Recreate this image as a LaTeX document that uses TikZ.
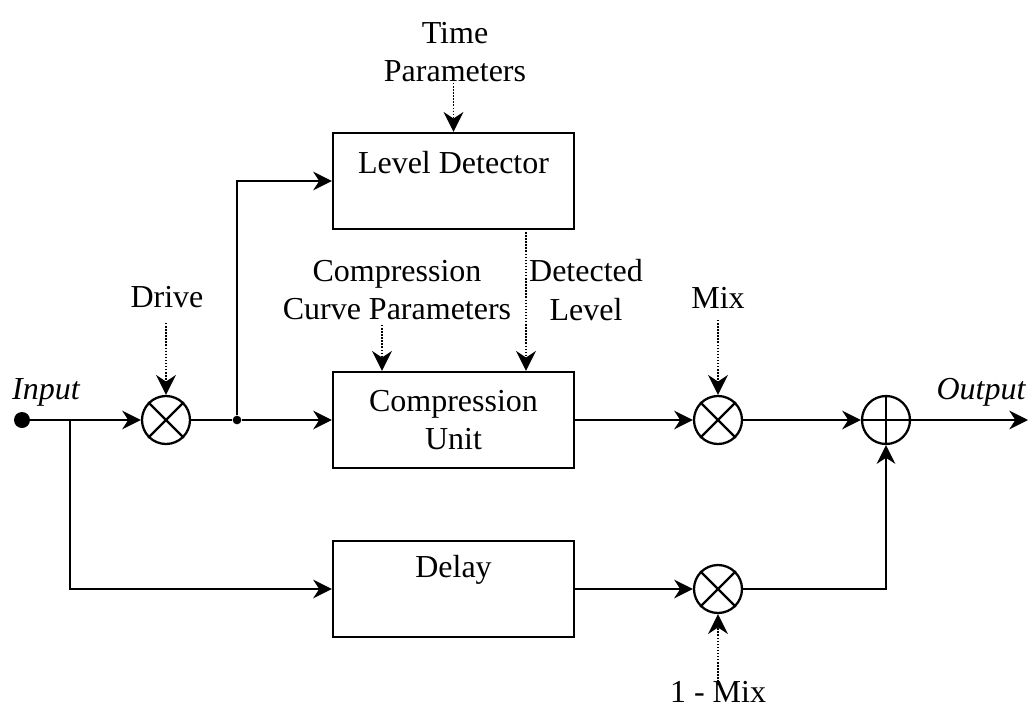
\documentclass[tikz,border=0pt]{standalone}
\usepackage{fontspec}
\setmainfont{Liberation Serif}
\usetikzlibrary{arrows.meta}
\begin{document}
\begin{tikzpicture}[x=0.75pt,y=-0.75pt,
  every node/.style={font=\fontsize{24}{29}\selectfont},
  blk/.style={draw,line width=1.7pt,minimum width=180.75pt,minimum height=72pt,inner sep=0pt},
  mult/.style={draw,circle,line width=1.7pt,minimum size=36pt,inner sep=0pt},
  lbl/.style={align=center,inner sep=0pt},
  wire/.style={line width=1.7pt},
  tip/.style={-{Stealth[length=14pt,width=14pt,inset=4.5pt]}},
  arr/.style={wire,tip},
  dotarr/.style={line width=1.1pt,dash pattern=on 1.1pt off 1.2pt,-{Stealth[length=15pt,width=15pt,inset=5pt,line width=0pt]}}
]
\useasboundingbox (0,0) rectangle (1031,718);

% blocks
\node[blk] (ld) at (453.5,181) {};
\node[lbl] (ldt) at (453.5,163) {Level Detector};
\node[blk,align=center] (cu) at (453.5,420) {Compression\\Unit};
\node[blk] (dl) at (453.5,589) {};
\node[lbl] (dlt) at (453.5,570) {Delay};

% operators
\node[mult] (m1) at (166,420) {};
\node[mult] (m2) at (718,420) {};
\node[mult] (m3) at (718,589) {};
\node[mult] (sum) at (886,420) {};
\foreach \m in {m1,m2,m3}{
  \draw[wire] (\m.45) -- (\m.225) (\m.135) -- (\m.315);
}
\draw[wire] (sum.north) -- (sum.south) (sum.west) -- (sum.east);

% points
\node[circle,fill,inner sep=0pt,minimum size=12pt] (in) at (22,420) {};
\node[circle,fill,inner sep=0pt,minimum size=6.5pt] (j) at (237,420) {};
\coordinate (br) at (70,420);
\coordinate (out) at (1028,420);

% labels
\node[lbl,font=\fontsize{24}{29}\selectfont\itshape] (inl) at (46,392) {Input};
\node[lbl,font=\fontsize{24}{29}\selectfont\itshape] (outl) at (981,392) {Output};
\node[lbl] (tp) at (455,52) {Time\\Parameters};
\node[lbl] (ccp) at (397,290) {Compression\\Curve Parameters};
\node[lbl] (dlev) at (586,290) {Detected\\Level};
\node[lbl] (drv) at (167,297) {Drive};
\node[lbl] (mix) at (718,298) {Mix};
\node[lbl] (omix) at (718,692) {1 - Mix};

% dotted start points
\coordinate (tps) at (453.5,83);
\coordinate (ccps) at (382,325);
\coordinate (dls) at (526,229);
\coordinate (drvs) at (166,323);
\coordinate (mixs) at (718,320);
\coordinate (omixs) at (718,685);

% solid connectors
\draw[arr] (in) -- (m1);
\draw[wire] (m1) -- (j);
\draw[arr] (j) -- (cu);
\draw[arr] (j) |- (ld);
\draw[arr] (br) |- (dl);
\draw[arr] (cu) -- (m2);
\draw[arr] (m2) -- (sum);
\draw[arr] (sum) -- (out);
\draw[arr] (dl) -- (m3);
\draw[arr] (m3) -| (sum);

% dotted connectors
\draw[dotarr] (tps) -- (ld.north);
\draw[dotarr] (ccps) -- (ccps |- cu.north);
\draw[dotarr] (dls) -- (dls |- cu.north);
\draw[dotarr] (drvs) -- (m1.north);
\draw[dotarr] (mixs) -- (m2.north);
\draw[dotarr] (omixs) -- (m3.south);
\end{tikzpicture}
\end{document}
